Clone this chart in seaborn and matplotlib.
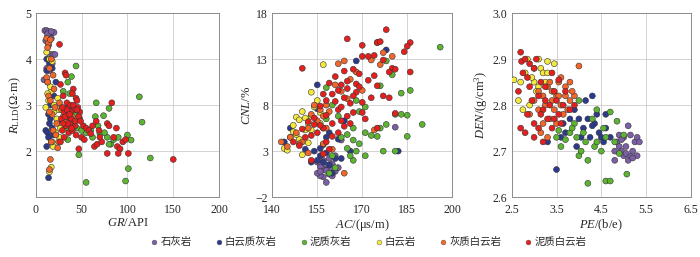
import matplotlib
matplotlib.use('Agg')
import matplotlib.pyplot as plt
from matplotlib.lines import Line2D
import seaborn as sns
import pandas as pd

# 岩性类别与颜色
lithologies = ['石灰岩', '白云质灰岩', '泥质灰岩', '白云岩', '灰质白云岩', '泥质白云岩']
colors = ['#7d5fa8', '#2c3a8e', '#5cb531', '#f3e83b', '#f2662a', '#e61f1e']

# ---- GR - RLLD ----
gr_1 = [10, 12, 14, 16, 18, 20, 13, 15, 17, 11, 14, 16, 19, 21, 12, 15, 9, 18, 13, 17]
rlld_1 = [4.62, 4.62, 4.6, 4.55, 4.58, 4.58, 4.5, 4.48, 4.45, 4.4, 4.3, 4.1, 4.1, 4.1, 3.8, 3.75, 3.55, 3.9, 4.55, 4.6]
gr_2 = [14, 12, 11, 13, 15, 16, 18, 14, 17, 13, 12, 15, 18, 20, 22, 16, 14, 24, 19, 12]
rlld_2 = [1.42, 2.1, 2.45, 2.4, 2.6, 2.7, 2.5, 2.3, 2.2, 3.5, 3.75, 3.9, 3.8, 3.2, 3.5, 3.0, 2.8, 2.65, 2.35, 4.0]
gr_3 = [44, 39, 35, 30, 37, 66, 80, 113, 116, 65, 74, 55, 60, 70, 78, 82, 80, 100, 104, 125,
        101, 98, 55, 47, 45, 50, 40, 35, 48, 62, 85, 90, 33, 42, 75, 68]
rlld_3 = [3.85, 3.62, 3.5, 3.3, 3.25, 3.05, 2.93, 3.18, 2.63, 2.75, 2.77, 2.4, 2.45, 2.38, 2.3, 2.15, 2.15, 2.35, 2.24, 1.85,
          1.62, 1.35, 1.32, 1.92, 2.5, 2.45, 2.6, 2.25, 2.7, 2.3, 2.25, 2.3, 2.5, 2.8, 2.4, 2.55]
gr_4 = [12, 15, 18, 17, 13, 11, 14, 20, 25, 27, 22, 26, 19, 17, 15, 20, 16, 23, 24, 18]
rlld_4 = [4.15, 4.0, 3.95, 3.3, 3.25, 2.95, 3.1, 3.0, 2.9, 2.5, 2.4, 2.3, 2.1, 1.65, 1.55, 2.85, 3.4, 2.7, 3.15, 2.2]
gr_5 = [12, 14, 16, 13, 17, 15, 12, 19, 14, 16, 21, 18, 15, 23, 19, 22, 24, 16, 15, 20,
        28, 30, 26, 33, 13, 17, 25, 35, 40]
rlld_5 = [4.45, 4.35, 4.42, 4.25, 4.0, 3.8, 3.6, 3.65, 3.2, 3.1, 2.95, 2.8, 2.85, 2.6, 2.45, 2.35, 2.07, 1.82, 1.6, 3.35,
          2.9, 2.75, 3.05, 2.7, 3.5, 2.2, 2.2, 2.95, 2.75]
gr_6 = [26, 32, 33, 41, 40, 44, 45, 27, 30, 34, 36, 38, 42, 31, 28, 35, 39, 46, 48, 47,
        37, 33, 29, 36, 40, 44, 52, 55, 50, 53, 47, 62, 66, 64, 67, 69, 70, 72, 78, 80,
        83, 85, 88, 89, 92, 90, 78, 95, 98, 101, 150, 31, 27, 38, 43, 58, 60, 34, 41, 29,
        32, 37, 43, 39, 35, 30, 45, 49]
rlld_6 = [4.32, 3.7, 3.65, 3.35, 3.25, 3.15, 3.1, 3.45, 3.2, 3.05, 2.95, 3.0, 2.9, 2.85, 2.7, 2.75, 2.7, 2.95, 2.85, 2.75,
          2.6, 2.55, 2.45, 2.4, 2.45, 2.35, 2.55, 2.5, 2.3, 2.25, 2.05, 2.55, 2.65, 2.1, 2.15, 2.45, 2.3, 2.2, 2.6, 2.55,
          3.05, 2.3, 2.5, 2.1, 2.05, 1.95, 1.95, 2.2, 2.25, 1.95, 1.82, 2.3, 2.2, 2.85, 2.55, 2.45, 2.38, 2.9, 3.0, 2.95,
          2.75, 2.8, 2.65, 2.5, 2.6, 2.6, 2.9, 2.65]

# ---- AC - CNL ----
ac_1 = [158, 157, 156, 159, 160, 155, 157, 159, 161, 156, 158, 160, 162, 157, 155, 159, 161, 163, 156, 158, 181]
cnl_1 = [-0.4, 0.2, 0.3, 0.5, 0.3, 0.6, 1.0, 1.1, 0.8, 1.3, 1.5, 1.6, 1.2, 2.0, 1.8, 2.2, 2.5, 4.2, 0.8, 0.9, 5.6]
ac_2 = [144, 146, 151, 155, 155, 154, 156, 157, 158, 155, 157, 159, 160, 158, 162, 164, 166, 168, 178, 182,
        159, 161, 156, 153, 163]
cnl_2 = [4.0, 5.5, 3.2, 10.2, 7.6, 3.0, 2.5, 3.7, 2.8, 2.0, 1.8, 1.5, 0.6, 4.5, 4.3, 6.3, 3.0, 12.8, 14.0, 3.0,
         5.0, 2.2, 3.3, 1.8, 2.2]
ac_3 = [196, 178, 180, 183, 186, 176, 181, 183, 185, 190, 178, 185, 181, 177, 175, 176, 171, 173, 171, 168,
        167, 166, 167, 169, 165, 167, 168, 169, 171, 158, 160, 162, 158, 163, 165, 160, 161, 159, 157]
cnl_3 = [14.3, 12.8, 11.3, 9.3, 9.6, 10.1, 7.0, 7.0, 6.9, 5.9, 5.9, 4.6, 3.0, 3.0, 4.6, 5.5, 5.0, 4.7, 2.5, 3.0,
         2.0, 2.5, 4.2, 3.8, 4.8, 5.5, 8.5, 7.3, 7.8, 9.9, 8.0, 6.8, 6.5, 4.5, 3.3, 2.5, 1.2, 0.6, 5.5]
ac_4 = [144, 145, 146, 147, 148, 149, 150, 147, 149, 151, 152, 153, 154, 155, 153, 156, 157, 152, 150, 156,
        148, 151, 153]
cnl_4 = [3.3, 3.1, 4.5, 5.1, 6.7, 6.4, 7.3, 5.8, 4.3, 5.3, 6.0, 6.8, 7.8, 8.5, 9.4, 7.2, 12.4, 3.9, 2.6, 6.0,
         4.8, 6.6, 5.3]
ac_5 = [143, 145, 146, 148, 150, 152, 153, 154, 156, 155, 157, 158, 159, 158, 157, 161, 162, 163, 165, 164,
        166, 168, 170, 173, 176, 177, 180, 175, 164, 160, 152, 149, 174]
cnl_5 = [4.0, 3.5, 4.5, 5.0, 4.0, 5.5, 7.0, 8.0, 7.5, 6.3, 6.8, 8.0, 7.3, 5.5, 3.8, 10.2, 12.5, 9.5, 8.7, 12.8,
         10.8, 11.6, 9.6, 12.9, 12.4, 13.7, 13.3, 14.8, 0.6, 3.2, 2.8, 3.8, 5.3]
ac_6 = [150, 165, 178, 170, 175, 176, 186, 185, 184, 174, 172, 170, 177, 180, 181, 186, 179, 174, 172, 175,
        169, 167, 165, 163, 161, 159, 162, 160, 157, 158, 164, 166, 168, 170, 173, 179, 181, 170, 167, 165,
        163, 160, 157, 155, 153, 151, 150, 152, 154, 156, 158, 160, 162, 164, 166, 159, 157, 153, 168, 164,
        162, 171, 175, 177, 147, 149, 161, 163, 165, 167, 169, 158, 156, 154]
cnl_6 = [12.0, 15.2, 16.2, 14.5, 14.8, 14.9, 14.8, 14.4, 13.8, 13.4, 13.3, 13.3, 12.9, 12.0, 11.9, 11.6, 11.6, 11.2, 10.7, 10.1,
         11.4, 11.9, 9.8, 10.2, 11.1, 10.4, 9.6, 9.2, 9.2, 8.5, 8.8, 8.2, 9.4, 8.3, 8.8, 8.8, 7.1, 7.2, 7.2, 6.8,
         6.3, 6.0, 5.5, 5.0, 4.7, 4.5, 5.4, 6.2, 6.6, 5.8, 4.0, 4.6, 5.0, 5.7, 6.0, 3.2, 2.7, 2.0, 10.3, 11.7,
         7.5, 6.5, 5.5, 9.0, 4.0, 3.6, 8.4, 7.8, 10.6, 9.0, 10.0, 6.9, 7.9, 5.9]

# ---- PE - DEN ----
pe_1 = [4.8, 4.8, 4.85, 4.9, 4.95, 5.0, 5.05, 5.1, 5.15, 5.2, 5.25, 5.3, 5.3, 5.35, 5.1, 5.0, 4.9, 5.15, 5.2, 4.95, 5.05]
den_1 = [2.68, 2.70, 2.72, 2.71, 2.70, 2.69, 2.71, 2.68, 2.69, 2.70, 2.72, 2.73, 2.69, 2.72, 2.755, 2.73, 2.735, 2.735, 2.685, 2.725, 2.695]
pe_2 = [3.5, 3.3, 3.6, 3.7, 3.8, 3.9, 4.0, 4.1, 4.15, 4.3, 4.2, 4.4, 4.45, 4.5, 4.6, 4.7, 4.25, 4.05, 3.95, 4.35,
        4.6, 3.65, 4.55, 4.3]
den_2 = [2.66, 2.72, 2.73, 2.74, 2.77, 2.79, 2.77, 2.75, 2.81, 2.82, 2.77, 2.78, 2.74, 2.73, 2.75, 2.73, 2.73, 2.73, 2.71, 2.76,
         2.78, 2.76, 2.72, 2.755]
pe_3 = [4.2, 4.6, 4.7, 5.07, 4.2, 4.0, 4.05, 4.35, 4.5, 4.9, 4.8, 4.6, 4.7, 4.85, 4.4, 4.0, 3.9, 3.8, 3.6, 3.5,
        3.55, 3.7, 4.1, 4.3, 4.15, 3.85, 4.55, 3.95, 5.0, 4.4]
den_3 = [2.63, 2.635, 2.635, 2.65, 2.68, 2.69, 2.70, 2.71, 2.70, 2.695, 2.72, 2.73, 2.785, 2.765, 2.79, 2.81, 2.76, 2.74, 2.71, 2.73,
         2.745, 2.725, 2.74, 2.77, 2.72, 2.75, 2.75, 2.73, 2.735, 2.72]
pe_4 = [2.55, 2.65, 2.75, 2.85, 2.9, 3.0, 3.1, 3.15, 3.3, 3.45, 3.2, 3.05, 2.95, 3.3, 3.1, 2.8, 3.25, 3.0, 2.7]
den_4 = [2.855, 2.81, 2.79, 2.9, 2.8, 2.85, 2.9, 2.88, 2.895, 2.89, 2.87, 2.83, 2.86, 2.87, 2.84, 2.87, 2.85, 2.88, 2.85]
pe_5 = [2.9, 3.0, 3.1, 3.2, 3.25, 3.3, 3.4, 3.5, 3.55, 3.6, 3.7, 3.8, 3.9, 4.0, 3.45, 3.35, 3.6, 3.75, 3.65, 3.5,
        3.2, 3.15, 3.3, 3.55, 3.8, 3.4, 3.1, 3.7, 3.85, 3.35]
den_5 = [2.78, 2.81, 2.83, 2.82, 2.80, 2.84, 2.83, 2.82, 2.85, 2.86, 2.84, 2.85, 2.82, 2.885, 2.79, 2.77, 2.80, 2.79, 2.78, 2.76,
         2.76, 2.74, 2.73, 2.82, 2.81, 2.81, 2.79, 2.82, 2.83, 2.85]
pe_6 = [2.7, 2.72, 2.8, 2.9, 3.0, 3.05, 2.75, 2.85, 2.65, 2.7, 2.8, 2.85, 3.0, 3.0, 3.1, 3.15, 3.2, 3.25, 3.3, 3.35,
        3.4, 3.45, 3.5, 3.55, 3.6, 3.65, 3.7, 3.8, 3.9, 3.2, 3.1, 2.95, 3.4, 3.55, 3.45, 3.25, 2.9, 3.15]
den_6 = [2.915, 2.895, 2.90, 2.89, 2.88, 2.90, 2.87, 2.86, 2.83, 2.75, 2.74, 2.78, 2.73, 2.76, 2.82, 2.85, 2.79, 2.81, 2.77, 2.80,
         2.87, 2.83, 2.81, 2.78, 2.76, 2.80, 2.83, 2.79, 2.80, 2.72, 2.75, 2.81, 2.75, 2.855, 2.77, 2.84, 2.84, 2.78]


def build_frame(xs, ys):
    rows = []
    for name, x, y in zip(lithologies, xs, ys):
        for a, b in zip(x, y):
            rows.append({'x': a, 'y': b, 'lith': name})
    return pd.DataFrame(rows)


panels = [
    (build_frame([gr_1, gr_2, gr_3, gr_4, gr_5, gr_6], [rlld_1, rlld_2, rlld_3, rlld_4, rlld_5, rlld_6]),
     r'$\mathit{GR}$/API', r'$\mathit{R}_{\mathrm{LLD}}(\Omega\!\cdot\!\mathrm{m})$',
     (0, 200), [0, 50, 100, 150, 200], (1, 5), [2, 3, 4, 5]),
    (build_frame([ac_1, ac_2, ac_3, ac_4, ac_5, ac_6], [cnl_1, cnl_2, cnl_3, cnl_4, cnl_5, cnl_6]),
     r'$\mathit{AC}$/(μs/m)', r'$\mathit{CNL}$/%',
     (140, 200), [140, 155, 170, 185, 200], (-2, 18), [-2, 3, 8, 13, 18]),
    (build_frame([pe_1, pe_2, pe_3, pe_4, pe_5, pe_6], [den_1, den_2, den_3, den_4, den_5, den_6]),
     r'$\mathit{PE}$/(b/e)', r'$\mathit{DEN}$/(g/cm$^3$)',
     (2.5, 6.5), [2.5, 3.5, 4.5, 5.5, 6.5], (2.6, 3.0), [2.6, 2.7, 2.8, 2.9, 3.0]),
]

sns.set_style('white')
plt.rcParams['font.family'] = ['Liberation Serif', 'Noto Sans CJK SC']
plt.rcParams['mathtext.fontset'] = 'custom'
plt.rcParams['mathtext.rm'] = 'Liberation Serif'
plt.rcParams['mathtext.it'] = 'Liberation Serif:italic'
plt.rcParams['axes.unicode_minus'] = True

fig = plt.figure(figsize=(7, 2.57), dpi=100)
positions = [
    [0.051, 0.233, 0.262, 0.716],
    [0.389, 0.233, 0.257, 0.716],
    [0.731, 0.233, 0.256, 0.716],
]
palette = dict(zip(lithologies, colors))

for pos, (df, xlabel, ylabel, xlim, xticks, ylim, yticks) in zip(positions, panels):
    ax = fig.add_axes(pos)
    sns.scatterplot(data=df, x='x', y='y', hue='lith', palette=palette, hue_order=lithologies,
                    s=18, edgecolor='#333333', linewidth=0.4, legend=False, ax=ax, zorder=3)
    ax.set_xlim(*xlim)
    ax.set_ylim(*ylim)
    ax.set_xticks(xticks)
    ax.set_yticks(yticks)
    ax.grid(True, color='#cccccc', linewidth=0.6)
    ax.set_axisbelow(True)
    for sp in ax.spines.values():
        sp.set_color('#8c8c8c')
        sp.set_linewidth(0.7)
    ax.tick_params(labelsize=8.5, length=0)
    ax.tick_params(axis='x', pad=5)
    ax.tick_params(axis='y', pad=3)
    ax.set_xlabel(xlabel, fontsize=9, labelpad=1)
    ax.set_ylabel(ylabel, fontsize=9, labelpad=2)

handles = [Line2D([], [], marker='o', linestyle='', markersize=3.5, markerfacecolor=c,
                  markeredgecolor='#555555', markeredgewidth=0.3) for c in colors]
fig.legend(handles, lithologies, loc='center', bbox_to_anchor=(0.526, 0.058), ncol=6, frameon=False,
           fontsize=7.5, handletextpad=0.2, columnspacing=2.2, handlelength=0.8)

fig.savefig('out.png', dpi=100)
